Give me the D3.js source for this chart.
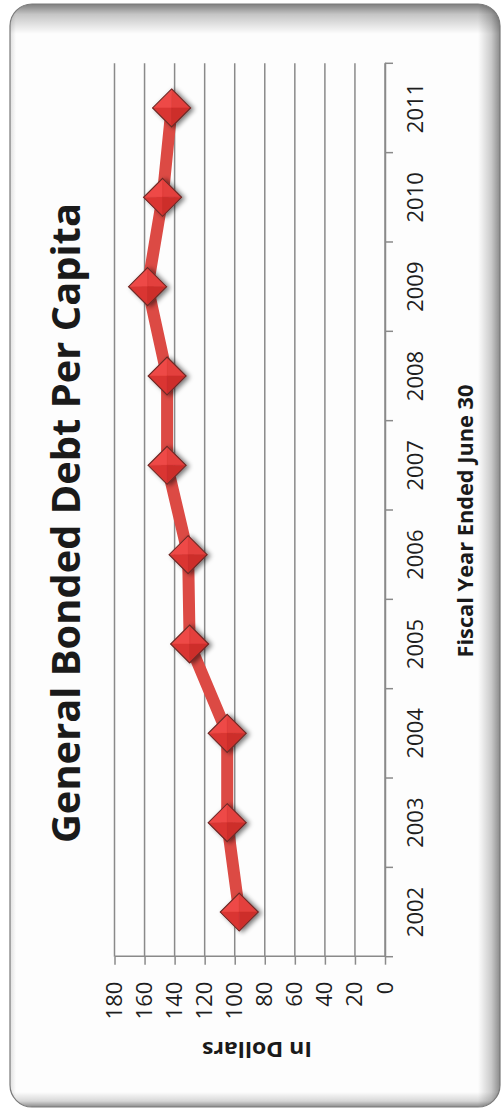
<!DOCTYPE html>
<html>
<head>
<meta charset="utf-8">
<script src="https://cdn.jsdelivr.net/npm/d3@7/dist/d3.min.js"></script>
<style>
html,body{margin:0;padding:0;background:#ffffff;}
svg{display:block;}
</style>
</head>
<body>
<svg id="chart" width="503" height="1112"></svg>
<script>
// ---- data ----
const years = ["2002","2003","2004","2005","2006","2007","2008","2009","2010","2011"];
const debtPerCapita = [97, 105, 105, 130, 131, 145, 145, 158, 148, 142];
const valueTicks = [0, 20, 40, 60, 80, 100, 120, 140, 160, 180];
const chartTitle = "General Bonded Debt Per Capita";
const xAxisTitle = "Fiscal Year Ended June 30";
const yAxisTitle = "In Dollars";

const W = 503, H = 1112;
const svg = d3.select("#chart");
const defs = svg.append("defs");

// ---- frame ----
const frame = {x: 10, y: 4, w: 490, h: 1103, r: 22};
defs.append("clipPath").attr("id", "frameClip")
  .append("rect").attr("x", frame.x).attr("y", frame.y).attr("width", frame.w).attr("height", frame.h)
  .attr("rx", frame.r).attr("ry", frame.r);

function grad(id, x1, y1, x2, y2, stops) {
  const g = defs.append("linearGradient").attr("id", id)
    .attr("x1", x1).attr("y1", y1).attr("x2", x2).attr("y2", y2);
  stops.forEach(s => g.append("stop").attr("offset", s[0]).attr("stop-color", "#000").attr("stop-opacity", s[1]));
}
grad("gTop", 0, 0, 0, 1, [[0, 0.5], [0.35, 0.22], [1, 0]]);
grad("gRight", 1, 0, 0, 0, [[0, 0.45], [0.4, 0.2], [1, 0]]);
grad("gBottom", 0, 1, 0, 0, [[0, 0.45], [0.4, 0.15], [1, 0]]);
grad("gLeft", 0, 0, 1, 0, [[0, 0.12], [1, 0]]);

svg.append("rect").attr("x", frame.x).attr("y", frame.y).attr("width", frame.w).attr("height", frame.h)
  .attr("rx", frame.r).attr("ry", frame.r).attr("fill", "#fdfdfd");
const shade = svg.append("g").attr("clip-path", "url(#frameClip)");
shade.append("rect").attr("x", frame.x).attr("y", frame.y).attr("width", frame.w).attr("height", 30).attr("fill", "url(#gTop)");
shade.append("rect").attr("x", 478).attr("y", frame.y).attr("width", 22).attr("height", frame.h).attr("fill", "url(#gRight)");
shade.append("rect").attr("x", frame.x).attr("y", 1092).attr("width", frame.w).attr("height", 15).attr("fill", "url(#gBottom)");
shade.append("rect").attr("x", frame.x).attr("y", frame.y).attr("width", 6).attr("height", frame.h).attr("fill", "url(#gLeft)");
svg.append("rect").attr("x", frame.x).attr("y", frame.y).attr("width", frame.w).attr("height", frame.h)
  .attr("rx", frame.r).attr("ry", frame.r).attr("fill", "none").attr("stroke", "#7a7a7a").attr("stroke-width", 1.2);

// ---- chart drawn in the unrotated frame, then rotated -90deg ----
const g = svg.append("g").attr("transform", `translate(0,${H}) rotate(-90)`);
const x = d3.scaleBand().domain(years).range([155.3, 1048.7]).padding(0);
const y = d3.scaleLinear().domain([0, 180]).range([385, 114.5]);
const bw = x.bandwidth();
const gridColor = "#8a8a8a";
const gridW = 1.5;

// gridlines
g.append("g").selectAll("line").data(valueTicks).join("line")
  .attr("x1", x.range()[0]).attr("x2", x.range()[1])
  .attr("y1", d => y(d)).attr("y2", d => y(d))
  .attr("stroke", gridColor).attr("stroke-width", gridW);

// category axis (labels)
const xAxis = g.append("g").attr("transform", `translate(0,${y(0)})`)
  .call(d3.axisBottom(x).tickSize(0).tickPadding(22));
xAxis.select(".domain").attr("stroke", gridColor).attr("stroke-width", gridW);
xAxis.selectAll("text").attr("font-family", "'Open Sans', sans-serif").attr("font-size", 22).attr("fill", "#1e1e1e");

// category boundary ticks
const bounds = years.map(d => x(d)).concat([x.range()[1]]);
g.append("g").selectAll("line").data(bounds).join("line")
  .attr("x1", d => d).attr("x2", d => d)
  .attr("y1", y(0)).attr("y2", y(0) + 8)
  .attr("stroke", gridColor).attr("stroke-width", gridW);

// value axis
const yAxis = g.append("g").attr("transform", `translate(${x.range()[0]},0)`)
  .call(d3.axisLeft(y).tickValues(valueTicks).tickSize(8).tickSizeOuter(0).tickPadding(17));
yAxis.select(".domain").attr("stroke", gridColor).attr("stroke-width", gridW);
yAxis.selectAll(".tick line").attr("stroke", gridColor).attr("stroke-width", gridW);
yAxis.selectAll("text").attr("font-family", "'Open Sans', sans-serif").attr("font-size", 22).attr("fill", "#1e1e1e");

// data line
const pts = years.map((yr, i) => ({year: yr, value: debtPerCapita[i]}));
const lineGen = d3.line().x(d => x(d.year) + bw / 2).y(d => y(d.value));
g.append("path").datum(pts).attr("d", lineGen)
  .attr("fill", "none").attr("stroke", "#dc4a44").attr("stroke-width", 12)
  .attr("stroke-linejoin", "round");

// markers (faceted diamonds, counter-rotated so facets are screen-aligned)
const shadow = defs.append("filter").attr("id", "mShadow").attr("x", "-50%").attr("y", "-50%").attr("width", "200%").attr("height", "200%");
shadow.append("feGaussianBlur").attr("in", "SourceAlpha").attr("stdDeviation", 2.5).attr("result", "b");
shadow.append("feOffset").attr("in", "b").attr("dx", 3).attr("dy", 1).attr("result", "o");
shadow.append("feComponentTransfer").attr("in", "o").attr("result", "s")
  .append("feFuncA").attr("type", "linear").attr("slope", 0.55);
const fm = shadow.append("feMerge");
fm.append("feMergeNode").attr("in", "s");
fm.append("feMergeNode").attr("in", "SourceGraphic");

const R = 19;
const facets = [
  {p: [[0, -R], [-R, 0], [0, 0]], c: "#ee4a46"},
  {p: [[0, -R], [R, 0], [0, 0]], c: "#e33f3c"},
  {p: [[0, R], [-R, 0], [0, 0]], c: "#da3632"},
  {p: [[0, R], [R, 0], [0, 0]], c: "#cd2f2c"}
];
const mk = g.append("g").selectAll("g").data(pts).join("g")
  .attr("transform", d => `translate(${x(d.year) + bw / 2},${y(d.value)}) rotate(90)`)
  .attr("filter", "url(#mShadow)");
mk.selectAll("path.f").data(facets).join("path").attr("class", "f")
  .attr("d", f => "M" + f.p.map(q => q.join(",")).join("L") + "Z")
  .attr("fill", f => f.c).attr("stroke", f => f.c).attr("stroke-width", 0.5);
mk.append("path").attr("d", `M0,${-R}L${R},0L0,${R}L${-R},0Z`)
  .attr("fill", "none").attr("stroke", "#6a2a27").attr("stroke-width", 1.1);

// ---- titles (screen coordinates) ----
svg.append("text").text(chartTitle)
  .attr("transform", "translate(80,523) rotate(-90)")
  .attr("text-anchor", "middle").attr("font-family", "'Open Sans', sans-serif")
  .attr("font-weight", 700).attr("font-size", 39).attr("fill", "#1a1a1a")
  .attr("textLength", 640).attr("lengthAdjust", "spacingAndGlyphs");

svg.append("text").text(xAxisTitle)
  .attr("transform", "translate(473,521) rotate(-90)")
  .attr("text-anchor", "middle").attr("font-family", "'Open Sans', sans-serif")
  .attr("font-weight", 700).attr("font-size", 21).attr("fill", "#1a1a1a")
  .attr("textLength", 273).attr("lengthAdjust", "spacingAndGlyphs");

svg.append("text").text(yAxisTitle)
  .attr("transform", "translate(257,1042) rotate(180)")
  .attr("text-anchor", "middle").attr("font-family", "'Open Sans', sans-serif")
  .attr("font-weight", 700).attr("font-size", 21).attr("fill", "#1a1a1a")
  .attr("textLength", 110).attr("lengthAdjust", "spacingAndGlyphs");
</script>
</body>
</html>
